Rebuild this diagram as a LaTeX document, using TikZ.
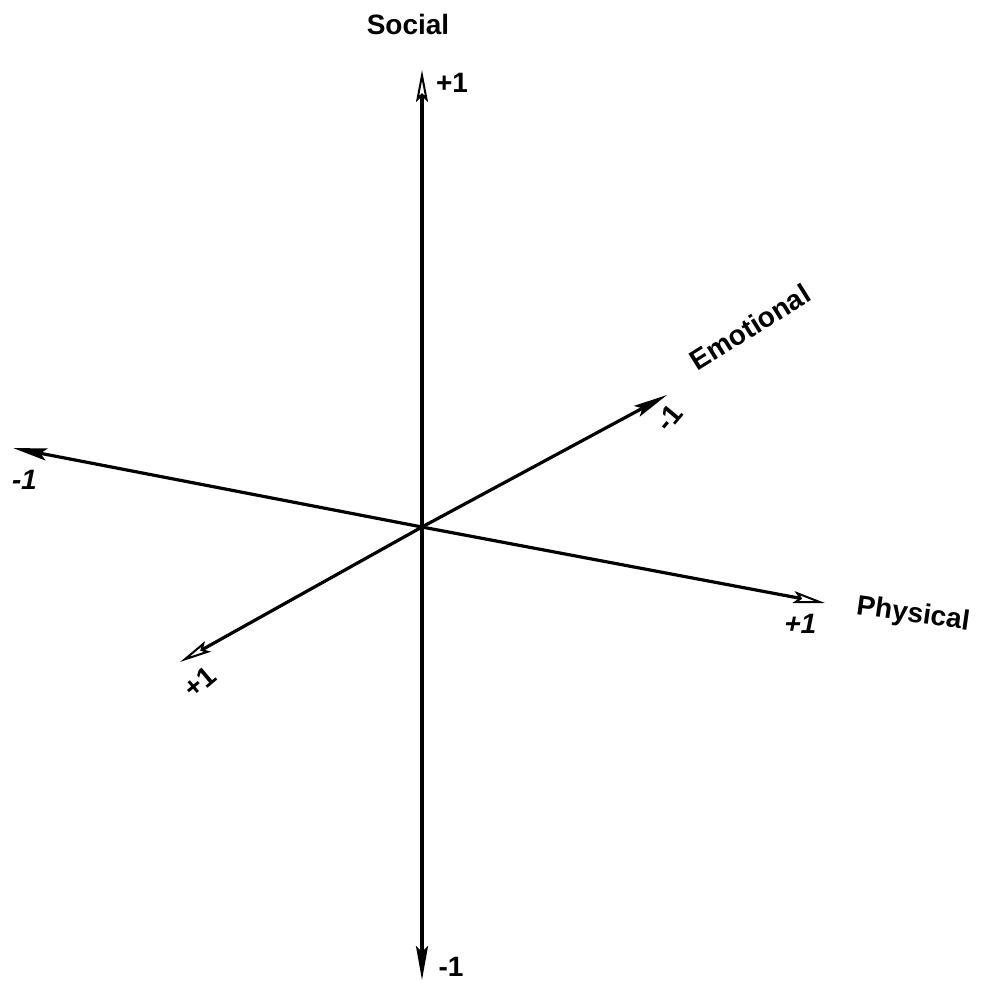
\documentclass[tikz,border=0pt]{standalone}
\usepackage{fontspec}
\setmainfont{Liberation Sans}
\usetikzlibrary{arrows.meta}
\begin{document}
\begin{tikzpicture}[x=1pt,y=-1pt,
  axis/.style={line width=3.2pt},
  filledtip/.style={-{Stealth[length=34pt,width=12pt,inset=6pt]}},
  opentip/.style={-{Stealth[open,length=32pt,width=12pt,inset=6pt,line width=2pt]}},
  lab/.style={font=\bfseries\fontsize{28}{28}\selectfont, inner sep=0pt}]
\useasboundingbox (0,0) rectangle (982,983);
\coordinate (o) at (422,527);
\coordinate (top) at (422,70);
\coordinate (bot) at (422,980);
\coordinate (left) at (13,448);
\coordinate (right) at (825,603);
\coordinate (eup) at (667,395);
\coordinate (elow) at (180,662);
\draw[axis,opentip] (o) -- (top);
\draw[axis,filledtip] (o) -- (bot);
\draw[axis,filledtip] (o) -- (left);
\draw[axis,opentip] (o) -- (right);
\draw[axis,filledtip] (o) -- (eup);
\draw[axis,opentip] (o) -- (elow);
\node[lab] (social) at (408,24) {Social};
\node[lab] (tp) at (452,83) {+1};
\node[lab] (bm) at (451,967) {-1};
\node[lab,xslant=0.2] (lm) at (25,480) {-1};
\node[lab,xslant=0.2] (rp) at (801,624) {+1};
\node[lab,rotate=-8] (phys) at (913,615) {Physical};
\node[lab,rotate=40] (ep) at (200,682) {+1};
\node[lab,rotate=50] (em) at (669,418) {-1};
\node[lab,rotate=32] (emo) at (750,327) {Emotional};
\end{tikzpicture}
\end{document}
